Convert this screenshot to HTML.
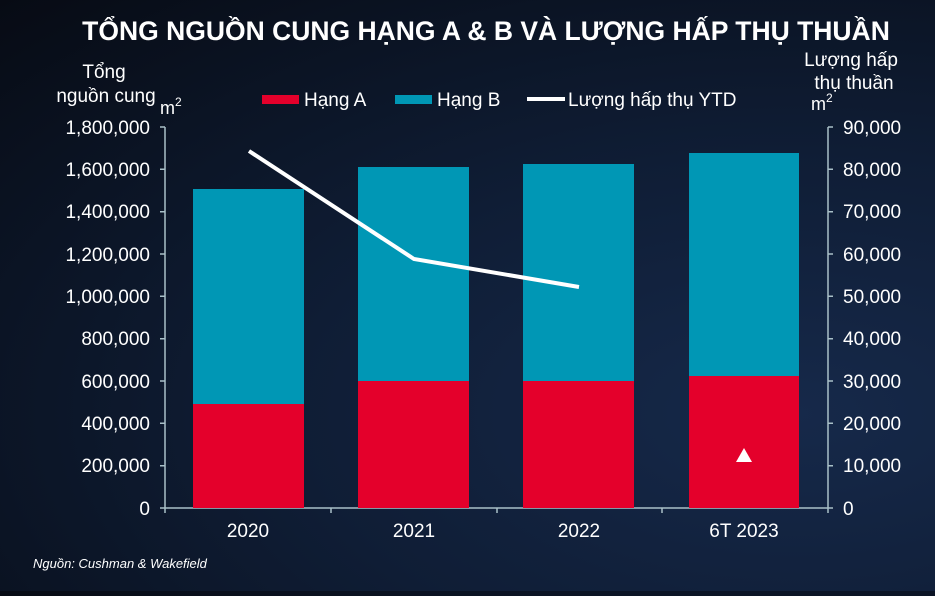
<!DOCTYPE html>
<html><head><meta charset="utf-8"><style>
html,body{margin:0;padding:0}
body{width:935px;height:591px;overflow:hidden;background:radial-gradient(ellipse at 85% 70%,#16294a 0%,#0f1d35 45%,#070b14 100%);font-family:"Liberation Sans",sans-serif;color:#fff}
</style></head><body>
<svg width="935" height="591" xmlns="http://www.w3.org/2000/svg" font-family="Liberation Sans, sans-serif" fill="#fff">
<text x="486" y="40" font-size="26.5" font-weight="bold" text-anchor="middle">TỔNG NGUỒN CUNG HẠNG A &amp; B VÀ LƯỢNG HẤP THỤ THUẦN</text>
<text x="104" y="78" font-size="19" text-anchor="middle">Tổng</text>
<text x="106" y="102" font-size="19" text-anchor="middle">nguồn cung</text>
<text x="160" y="114" font-size="18">m<tspan font-size="12" dy="-8">2</tspan></text>
<text x="851" y="66" font-size="19" text-anchor="middle">Lượng hấp</text>
<text x="854" y="89" font-size="19" text-anchor="middle">thụ thuần</text>
<text x="811" y="110" font-size="18">m<tspan font-size="12" dy="-8">2</tspan></text>
<rect x="262" y="95" width="37" height="9" fill="#e4002b"/>
<text x="304" y="106" font-size="19">Hạng A</text>
<rect x="395" y="95" width="37" height="9" fill="#0097b5"/>
<text x="437" y="106" font-size="19">Hạng B</text>
<line x1="527" y1="99" x2="565" y2="99" stroke="#fff" stroke-width="4"/>
<text x="568" y="106" font-size="19">Lượng hấp thụ YTD</text>
<g stroke="#a9c0c8" stroke-width="1.5" fill="none">
<line x1="165" y1="127" x2="165" y2="508"/>
<line x1="828" y1="127" x2="828" y2="508"/>
<line x1="165" y1="508" x2="828" y2="508"/>
<path d="M160 127h5M160 169.3h5M160 211.7h5M160 254h5M160 296.3h5M160 338.7h5M160 381h5M160 423.3h5M160 465.7h5M160 508h5"/>
<path d="M828 127h5M828 169.3h5M828 211.7h5M828 254h5M828 296.3h5M828 338.7h5M828 381h5M828 423.3h5M828 465.7h5M828 508h5"/>
<path d="M165 508v5M331 508v5M497 508v5M662 508v5M828 508v5"/>
</g>
<g font-size="19" text-anchor="end">
<text x="150" y="134">1,800,000</text><text x="150" y="176">1,600,000</text><text x="150" y="218">1,400,000</text><text x="150" y="261">1,200,000</text><text x="150" y="303">1,000,000</text><text x="150" y="345">800,000</text><text x="150" y="388">600,000</text><text x="150" y="430">400,000</text><text x="150" y="472">200,000</text><text x="150" y="515">0</text>
</g>
<g font-size="19">
<text x="843" y="134">90,000</text><text x="843" y="176">80,000</text><text x="843" y="218">70,000</text><text x="843" y="261">60,000</text><text x="843" y="303">50,000</text><text x="843" y="345">40,000</text><text x="843" y="388">30,000</text><text x="843" y="430">20,000</text><text x="843" y="472">10,000</text><text x="843" y="515">0</text>
</g>
<g fill="#0097b5">
<rect x="193" y="189" width="111" height="216"/><rect x="358" y="167" width="111" height="215"/><rect x="523" y="164" width="111" height="218"/><rect x="689" y="153" width="110" height="224"/>
</g>
<g fill="#e4002b">
<rect x="193" y="404" width="111" height="104"/><rect x="358" y="381" width="111" height="127"/><rect x="523" y="381" width="111" height="127"/><rect x="689" y="376" width="110" height="132"/>
</g>
<polyline points="249,151 414,259 579,287" fill="none" stroke="#fff" stroke-width="4"/>
<polygon points="744,448 736,462 752,462" fill="#fff"/>
<g font-size="19" text-anchor="middle">
<text x="248" y="537">2020</text><text x="414" y="537">2021</text><text x="579" y="537">2022</text><text x="744" y="537">6T 2023</text>
</g>
<text x="33" y="568" font-size="13" font-style="italic">Nguồn: Cushman &amp; Wakefield</text>
</svg>
</body></html>
